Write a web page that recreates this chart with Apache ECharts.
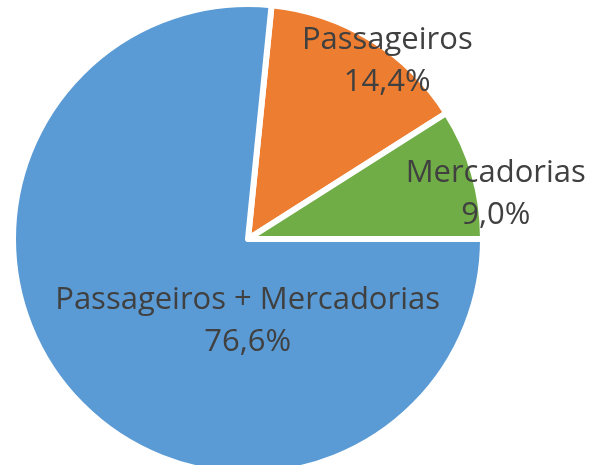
<!DOCTYPE html>
<html>
<head>
<meta charset="utf-8">
<script src="https://cdn.jsdelivr.net/npm/echarts@6/dist/echarts.min.js"></script>
<style>
  html, body { margin: 0; padding: 0; background: #fff; }
  #chart { width: 593px; height: 465px; }
</style>
</head>
<body>
<div id="chart"></div>
<script>
// dados (ordem no sentido horário a partir do topo)
const categories = ['Passageiros', 'Mercadorias', 'Passageiros + Mercadorias']
const shares = [14.4, 9.0, 76.6]
const sliceColors = ['#ED7D31', '#70AD47', '#5B9BD5']
// deslocamento dos rótulos em relação à posição 'inside'
const labelShift = [[76, -75], [132, -11], [89, 1]]

const chartDom = document.getElementById('chart')
const myChart = echarts.init(chartDom)

// início do primeiro setor: fronteira azul/verde fica na horizontal
const startAngle = (shares[0] + shares[1]) / 100 * 360

const option = {
    animation: false,
    color: sliceColors,
    series: [
        {
            type: 'pie',
            center: [248, 239],
            radius: 235,
            startAngle: startAngle,
            clockwise: true,
            itemStyle: {
                borderColor: '#fff',
                borderWidth: 6
            },
            label: {
                show: true,
                position: 'inside',
                color: '#404040',
                fontFamily: 'Open Sans',
                fontSize: 31,
                lineHeight: 42,
                align: 'center',
                formatter: p => p.name + '\n' + p.value.toFixed(1).replace('.', ',') + '%'
            },
            labelLine: { show: false },
            labelLayout: p => {
                const s = labelShift[p.dataIndex]
                return { dx: s[0], dy: s[1] }
            },
            emphasis: { disabled: true },
            data: categories.map((name, i) => ({ name, value: shares[i] }))
        }
    ]
}

option && myChart.setOption(option)
</script>
</body>
</html>
